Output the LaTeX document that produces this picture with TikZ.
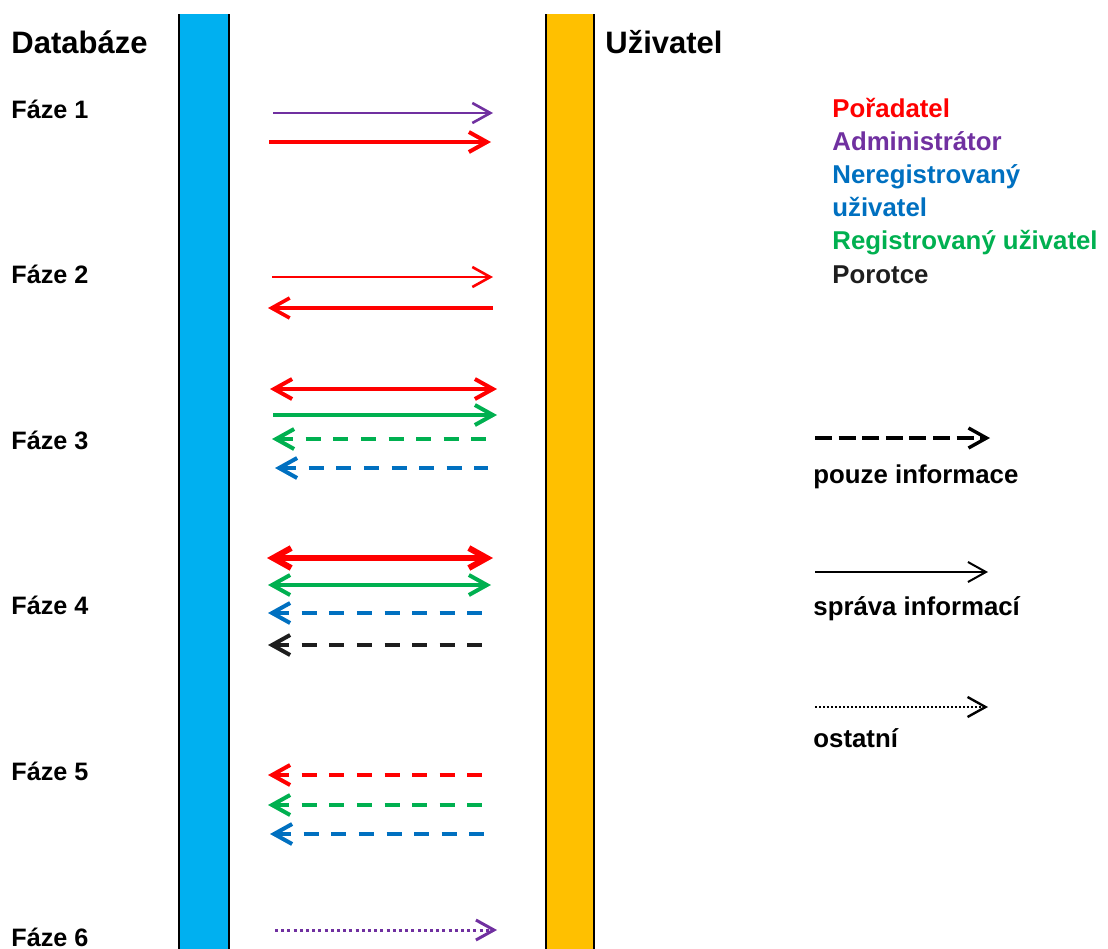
\documentclass[tikz,border=0pt]{standalone}
\usepackage{fontspec}
\setmainfont{Liberation Sans}
\usetikzlibrary{arrows.meta}
\definecolor{poradatel}{RGB}{255,0,0}
\definecolor{admin}{RGB}{112,48,160}
\definecolor{nereg}{RGB}{0,112,192}
\definecolor{reg}{RGB}{0,176,80}
\definecolor{porotce}{RGB}{30,30,30}
\definecolor{dbblue}{RGB}{0,176,240}
\definecolor{userorange}{RGB}{255,192,0}
\tikzstyle{every node}=[font=\bfseries\fontsize{12.6}{15}\selectfont,inner sep=0pt,anchor=base west]
\tikzstyle{every path}=[line cap=butt,line join=round]
\tikzset{
  chev/.tip={Straight Barb[length=9pt,width=10pt]},
  solR/.style={-chev},
  solL/.style={chev-},
  solB/.style={chev-chev},
  dashL/.style={chev-,dash pattern=on 7.5pt off 6.3pt},
  dotR/.style={-chev,dash pattern=on 1.5pt off 1.6pt},
  bigtitle/.style={font=\bfseries\fontsize{15.5}{18}\selectfont},
  legend/.style={font=\bfseries\fontsize{12.9}{15}\selectfont},
}

\begin{document}
\begin{tikzpicture}[x=0.5pt,y=-0.5pt]
  \useasboundingbox (0,0) rectangle (1108,948);
  % the two columns
  \fill[dbblue] (179,14) rectangle (229,970);
  \draw[line width=1pt] (179,14) -- (179,970) (229,14) -- (229,970);
  \fill[userorange] (546,14) rectangle (594,970);
  \draw[line width=1pt] (546,14) -- (546,970) (594,14) -- (594,970);
  \node[bigtitle] (db) at (11,53) {Databáze};
  \node[bigtitle] (user) at (605,53) {Uživatel};
  % phases
  \foreach \i in {1,...,6}
    \node (faze\i) at (11,{118+165.6*(\i-1)}) {Fáze \i};
  % messages between the columns
  \foreach \y/\xa/\xb/\col/\sty/\lw [count=\i] in {
      113/273/493/admin/solR/1.3,
      142/269/491/poradatel/solR/2,
      277/272/493/poradatel/solR/1.3,
      308/268/493/poradatel/solL/1.8,
      389/270/497/poradatel/solB/2,
      415/273/497/reg/solR/2,
      439/272/488/reg/dashL/2,
      468/275/488/nereg/dashL/2,
      558/267/493/poradatel/solB/3,
      585/268/491/reg/solB/2,
      613/268/482/nereg/dashL/2,
      645/268/482/porotce/dashL/2,
      775/268/490/poradatel/dashL/2,
      805/268/484/reg/dashL/2,
      834/270/484/nereg/dashL/2,
      930/275/497/admin/dotR/1.5}
   {
    \coordinate (m\i-l) at (\xa,\y);
    \coordinate (m\i-r) at (\xb,\y);
    \draw[\sty,draw=\col,line width=\lw pt] (m\i-l) -- (m\i-r);
   }
  % roles
  \foreach \txt/\col [count=\i] in {Pořadatel/poradatel,Administrátor/admin,
      Neregistrovaný/nereg,uživatel/nereg,Registrovaný uživatel/reg,Porotce/porotce}
    \node[legend,text=\col] (role\i) at (832,{117+33.2*(\i-1)}) {\txt};
  % line types
  \coordinate (k1-l) at (815,438);
  \coordinate (k1-r) at (990,438);
  \draw[-chev,line width=1.7pt,dash pattern=on 8.5pt off 3.3pt] (k1-l) -- (k1-r);
  \node[legend] (k1) at (813,483) {pouze informace};
  \coordinate (k2-l) at (815,572);
  \coordinate (k2-r) at (988,572);
  \draw[-chev,line width=1pt] (k2-l) -- (k2-r);
  \node[legend] (k2) at (813,615) {správa informací};
  \coordinate (k3-l) at (815,707);
  \coordinate (k3-r) at (988,707);
  \draw[-chev,line width=1.2pt,dash pattern=on 1pt off 1pt] (k3-l) -- (k3-r);
  \node[legend] (k3) at (813,747) {ostatní};
\end{tikzpicture}
\end{document}
